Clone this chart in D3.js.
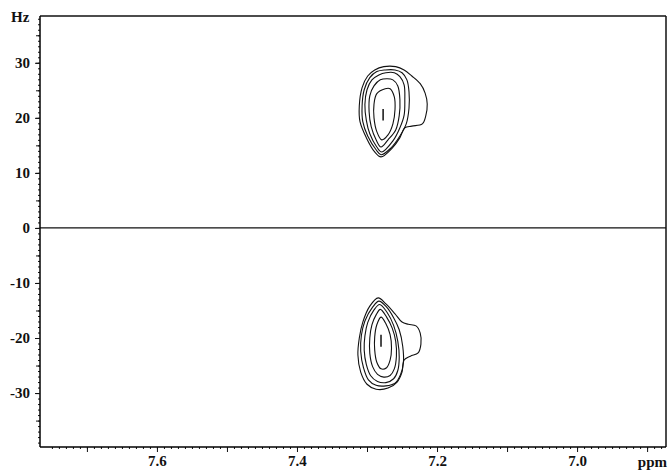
<!DOCTYPE html>
<html><head><meta charset="utf-8">
<script src="https://cdn.jsdelivr.net/npm/d3@7"></script>
<style>body{margin:0;background:#fff}svg text{font-family:"Liberation Serif","Times New Roman",serif;font-weight:bold;fill:#111}</style>
</head><body><svg id="c" width="668" height="470"></svg>
<script>
// Axis ranges (ppm, Hz)
const ppmDomain = [7.767, 6.873];
const hzDomain = [-39.8, 38.5];
const xTickLabels = [7.6, 7.4, 7.2, 7.0];
const yTickLabels = [30, 20, 10, 0, -10, -20, -30];

// Contour rings, upper multiplet (ppm, Hz)
const upperRingA = [[7.276,29.3],[7.259,29.3],[7.247,28.7],[7.236,27.6],[7.224,26.2],[7.217,24.5],[7.214,22.5],[7.216,20.4],[7.221,18.9],[7.236,18.5],[7.246,18.2],[7.253,16.4],[7.264,14.5],[7.280,12.9],[7.289,13.8],[7.301,16.4],[7.310,19.3],[7.311,22.2],[7.307,25.5],[7.299,27.6],[7.289,28.7]];
const upperRingB = [[7.274,28.7],[7.260,28.7],[7.250,28.2],[7.243,26.9],[7.240,24.7],[7.240,21.8],[7.244,18.9],[7.253,16.7],[7.266,14.5],[7.280,13.3],[7.287,14.2],[7.299,16.7],[7.306,19.3],[7.307,22.2],[7.304,25.1],[7.296,27.3],[7.286,28.4]];
const upperRingC = [[7.273,28.2],[7.261,28.2],[7.253,27.5],[7.247,26.0],[7.246,23.3],[7.247,20.5],[7.253,18.2],[7.263,15.8],[7.279,13.8],[7.286,14.7],[7.296,17.1],[7.301,19.6],[7.303,22.4],[7.300,25.1],[7.293,26.9],[7.283,27.8]];
const upperRingD = [[7.271,27.1],[7.263,26.9],[7.256,25.8],[7.253,23.3],[7.254,20.4],[7.259,17.8],[7.270,16.0],[7.280,14.7],[7.287,16.0],[7.294,18.4],[7.297,21.1],[7.296,24.0],[7.290,25.8],[7.281,26.9]];
const upperRingE = [[7.274,25.3],[7.267,25.3],[7.261,23.8],[7.260,21.5],[7.263,18.9],[7.270,16.9],[7.279,16.0],[7.286,17.5],[7.290,20.0],[7.290,22.5],[7.286,24.4]];
const upperCore = [[7.277,21.6],[7.277,19.5]];

// Contour rings, lower multiplet (ppm, Hz)
const lowerRingA = [[7.284,-12.7],[7.273,-13.8],[7.260,-15.6],[7.250,-17.1],[7.241,-17.5],[7.230,-17.8],[7.224,-19.1],[7.223,-21.1],[7.227,-22.7],[7.238,-23.3],[7.247,-24.0],[7.250,-26.2],[7.257,-28.0],[7.270,-29.1],[7.287,-29.3],[7.300,-28.4],[7.309,-26.2],[7.313,-23.1],[7.311,-20.0],[7.306,-17.1],[7.296,-14.2]];
const lowerRingB = [[7.283,-13.3],[7.272,-14.4],[7.262,-16.3],[7.254,-18.5],[7.249,-21.5],[7.248,-24.5],[7.252,-26.6],[7.260,-28.2],[7.273,-28.7],[7.287,-28.6],[7.298,-27.6],[7.305,-25.4],[7.309,-22.4],[7.308,-19.5],[7.303,-16.9],[7.292,-14.4]];
const lowerRingC = [[7.282,-13.9],[7.271,-15.4],[7.262,-17.7],[7.256,-20.6],[7.254,-23.5],[7.256,-25.9],[7.262,-27.4],[7.273,-28.1],[7.285,-27.9],[7.295,-26.8],[7.301,-24.8],[7.304,-22.2],[7.303,-19.6],[7.299,-17.2],[7.290,-14.9]];
const lowerRingD = [[7.281,-14.8],[7.272,-16.2],[7.264,-18.2],[7.259,-20.6],[7.258,-23.3],[7.261,-25.6],[7.267,-26.8],[7.276,-27.1],[7.285,-26.6],[7.292,-25.2],[7.296,-22.8],[7.296,-20.0],[7.293,-17.6],[7.287,-15.8]];
const lowerRingE = [[7.280,-16.2],[7.273,-17.4],[7.267,-19.4],[7.265,-21.8],[7.267,-24.0],[7.272,-25.4],[7.280,-25.6],[7.286,-24.4],[7.289,-22.2],[7.289,-19.8],[7.286,-17.6]];
const lowerCore = [[7.280,-19.4],[7.280,-21.6]];

const closedRings = [upperRingA, upperRingB, upperRingC, upperRingD, upperRingE,
                     lowerRingA, lowerRingB, lowerRingC, lowerRingD, lowerRingE];
const openLines = [upperCore, lowerCore];

const svg = d3.select('#c');
const L = 40, R = 666, T = 16, B = 447;
const x = d3.scaleLinear().domain(ppmDomain).range([L, R]);
const y = d3.scaleLinear().domain(hzDomain).range([B, T]);
const FS = '15px';

// frame
svg.append('line').attr('x1', L).attr('x2', R).attr('y1', T).attr('y2', T).attr('stroke', '#111').attr('stroke-width', 1.5);
svg.append('line').attr('x1', R).attr('x2', R).attr('y1', T).attr('y2', B).attr('stroke', '#111').attr('stroke-width', 1.5);
// zero line
svg.append('line').attr('x1', L).attr('x2', R).attr('y1', y(0)).attr('y2', y(0)).attr('stroke', '#111').attr('stroke-width', 1.3);

// y axis: minor ticks every 1 Hz, mid every 5, labels every 10
const yAxisG = svg.append('g').attr('transform', `translate(${L},0)`);
yAxisG.call(d3.axisLeft(y).tickValues(d3.range(-39, 39, 1)).tickSize(2).tickFormat(''));
yAxisG.call(g => g.select('.domain').remove());
const yMid = svg.append('g').attr('transform', `translate(${L},0)`)
  .call(d3.axisLeft(y).tickValues(d3.range(-35, 40, 5)).tickSize(4).tickFormat(''));
yMid.select('.domain').remove();
const yLab = svg.append('g').attr('transform', `translate(${L},0)`)
  .call(d3.axisLeft(y).tickValues(yTickLabels).tickSize(5).tickPadding(5).tickFormat(d => String(d)));
yLab.select('.domain').attr('stroke-width', 1.5).attr('d', `M0,${T}V${B}`);
yLab.selectAll('text').style('font-size', FS).style('font-family', '"Liberation Serif",serif').style('font-weight', 'bold').attr('fill', '#111');
svg.selectAll('.tick line').attr('stroke', '#111');

// x axis: minor every 0.01, major every 0.1, labels every 0.2
const xAxisG = svg.append('g').attr('transform', `translate(0,${B})`)
  .call(d3.axisBottom(x).tickValues(d3.range(688, 776).map(v => v / 100)).tickSize(2).tickFormat(''));
xAxisG.select('.domain').remove();
const xMaj = svg.append('g').attr('transform', `translate(0,${B})`)
  .call(d3.axisBottom(x).tickValues([7.7, 7.6, 7.5, 7.4, 7.3, 7.2, 7.1, 7.0, 6.9]).tickSize(5).tickFormat(''));
xMaj.select('.domain').attr('stroke-width', 1.5).attr('d', `M${L},0H${R}`);
const xLab = svg.append('g').attr('transform', `translate(0,${B})`)
  .call(d3.axisBottom(x).tickValues(xTickLabels).tickSize(0).tickPadding(8).tickFormat(d3.format('.1f')));
xLab.select('.domain').remove();
xLab.selectAll('text').style('font-size', FS).style('font-family', '"Liberation Serif",serif').style('font-weight', 'bold').attr('fill', '#111');
svg.selectAll('.tick line').attr('stroke', '#111');

// unit labels
svg.append('text').attr('x', 11).attr('y', 22).style('font-size', FS).text('Hz');
svg.append('text').attr('x', 667).attr('y', 467).attr('text-anchor', 'end').style('font-size', FS).text('ppm');

// contours
const ringLine = d3.line().x(d => x(d[0])).y(d => y(d[1])).curve(d3.curveCatmullRomClosed.alpha(0.5));
const segLine = d3.line().x(d => x(d[0])).y(d => y(d[1]));
svg.append('g').selectAll('path').data(closedRings).join('path')
  .attr('d', ringLine).attr('fill', 'none').attr('stroke', '#111').attr('stroke-width', 1.1);
svg.append('g').selectAll('path').data(openLines).join('path')
  .attr('d', segLine).attr('fill', 'none').attr('stroke', '#111').attr('stroke-width', 1.5);
</script></body></html>
